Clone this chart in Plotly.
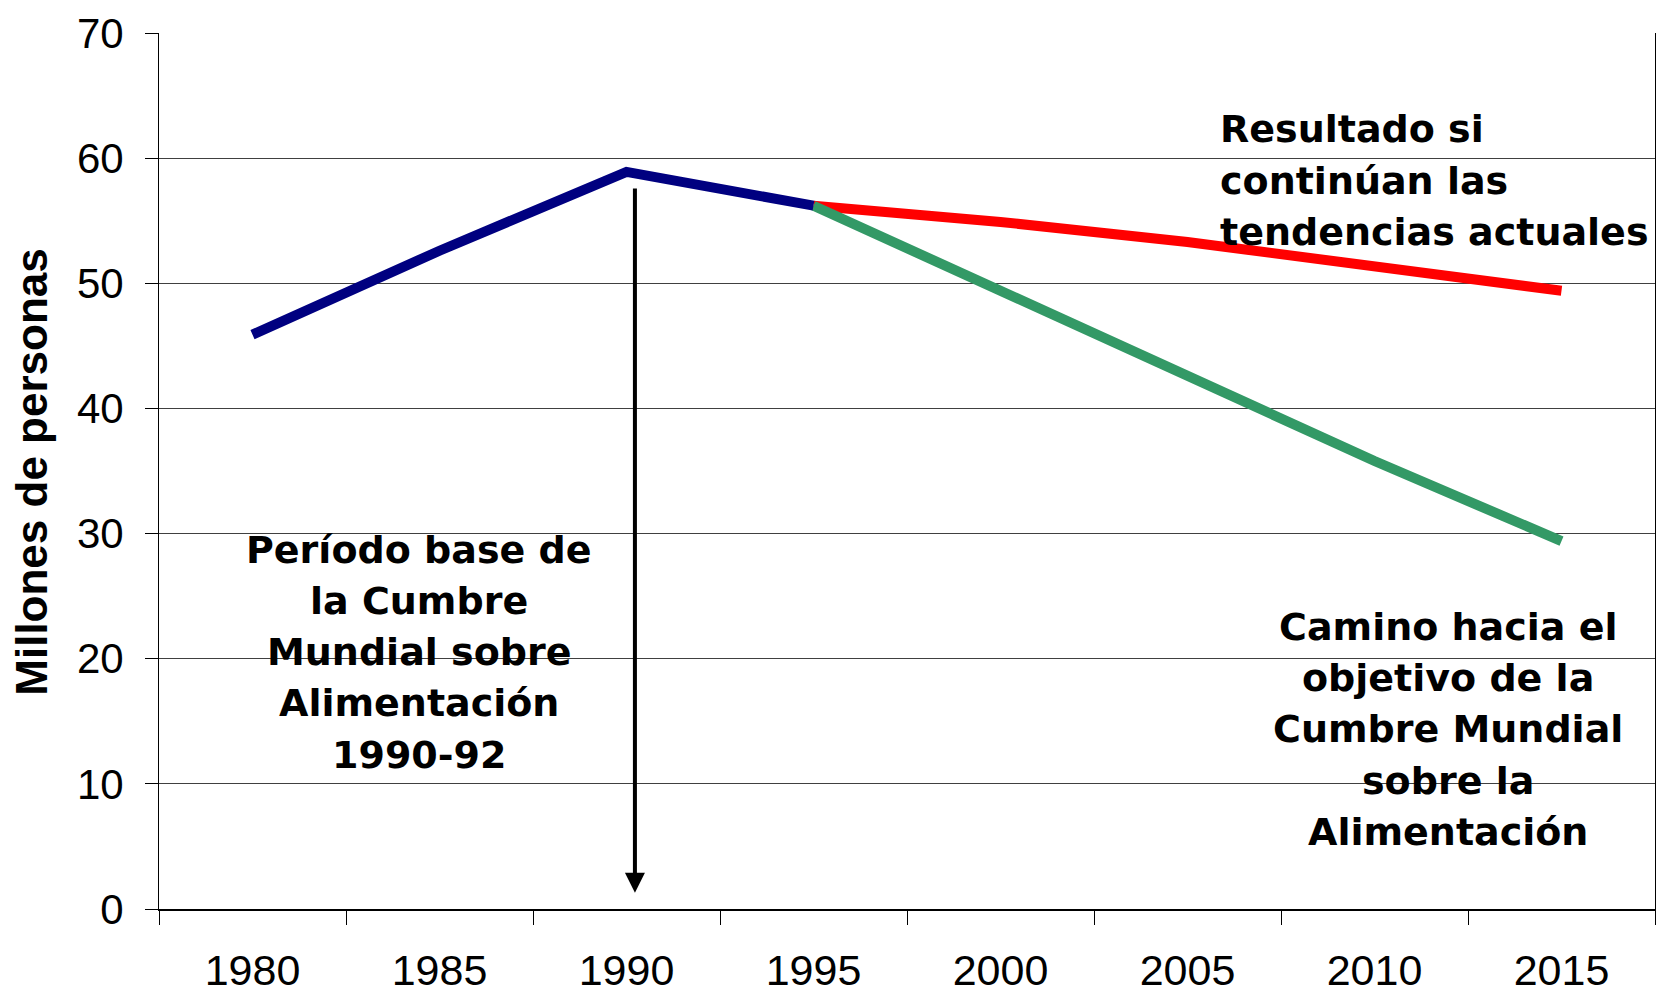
import plotly.graph_objects as go

years = ["1980", "1985", "1990", "1995", "2000", "2005", "2010", "2015"]
observed = [45.9, 52.6, 58.9, 56.2, None, None, None, None]
trend = [None, None, None, 56.2, 54.9, 53.3, 51.3, 49.4]
target = [None, None, None, 56.2, 49.4, 42.8, 35.8, 29.4]
y_ticks = [0, 10, 20, 30, 40, 50, 60, 70]

base_lines = ["Período base de", "la Cumbre", "Mundial sobre", "Alimentación", "1990-92"]
base_y = [28.69, 24.61, 20.54, 16.46, 12.31]
trend_lines = ["Resultado si", "continúan las", "tendencias actuales"]
trend_y = [62.33, 58.17, 54.10]
target_lines = ["Camino hacia el", "objetivo de la", "Cumbre Mundial", "sobre la", "Alimentación"]
target_y = [22.53, 18.46, 14.38, 10.23, 6.15]

fig = go.Figure()
fig.add_trace(go.Scatter(x=years, y=trend, mode="lines",
                         line=dict(color="#FF0000", width=10), connectgaps=False))
fig.add_trace(go.Scatter(x=years, y=target, mode="lines",
                         line=dict(color="#339966", width=10), connectgaps=False))
fig.add_trace(go.Scatter(x=years, y=observed, mode="lines",
                         line=dict(color="#000080", width=10), connectgaps=False))

ann_font = dict(family="DejaVu Sans", size=38, color="black")

fig.add_annotation(x=2.045, y=1.3, ax=2.045, ay=57.7, xref="x", yref="y",
                   axref="x", ayref="y", text="", showarrow=True,
                   arrowhead=2, arrowsize=1, arrowwidth=4, arrowcolor="black",
                   standoff=0, startstandoff=0)

for t, yv in zip(base_lines, base_y):
    fig.add_annotation(x=0.89, y=yv, xref="x", yref="y", showarrow=False,
                       text="<b>%s</b>" % t, font=ann_font,
                       xanchor="center", yanchor="middle")
for t, yv in zip(trend_lines, trend_y):
    fig.add_annotation(x=5.163, y=yv, xref="x", yref="y", showarrow=False,
                       text="<b>%s</b>" % t, font=ann_font,
                       xanchor="left", yanchor="middle")
for t, yv in zip(target_lines, target_y):
    fig.add_annotation(x=6.393, y=yv, xref="x", yref="y", showarrow=False,
                       text="<b>%s</b>" % t, font=ann_font,
                       xanchor="center", yanchor="middle")

fig.add_annotation(x=-0.085, y=0.499, xref="paper", yref="paper", showarrow=False,
                   text="<b>Millones de personas</b>", textangle=-90,
                   font=dict(size=44, family="Liberation Sans, Arial", color="black"),
                   xanchor="center", yanchor="middle")

fig.update_layout(
    width=1663, height=995,
    margin=dict(l=159, r=8, t=33, b=86, autoexpand=False),
    paper_bgcolor="white", plot_bgcolor="white",
    showlegend=False,
    font=dict(family="Liberation Sans, Arial", color="black"),
    xaxis=dict(type="category", categoryorder="array", categoryarray=years,
               range=[-0.5, 7.5], tickson="boundaries", ticks="outside",
               ticklen=14, tickwidth=1, tickcolor="black",
               showline=True, linecolor="black", linewidth=2,
               showgrid=False, zeroline=False, automargin=False,
               tickfont=dict(size=43, family="Liberation Sans, Arial"),
               ticklabelstandoff=22),
    yaxis=dict(range=[0, 70], tickvals=y_ticks, ticks="outside", ticklen=13,
               tickwidth=1, tickcolor="black",
               showline=True, linecolor="black", linewidth=1, mirror=True,
               showgrid=True, gridcolor="#404040", gridwidth=1, zeroline=False,
               automargin=False,
               tickfont=dict(size=42, family="Liberation Sans, Arial"),
               ticklabelstandoff=13),
)

fig.write_html("out.html", config={"displayModeBar": False},
               post_script="document.body.style.margin='0';document.body.style.overflow='hidden';")
